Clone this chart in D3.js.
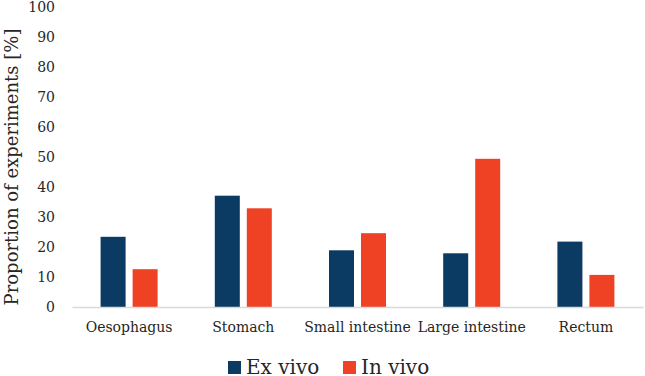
<!DOCTYPE html>
<html>
<head>
<meta charset="utf-8">
<script src="https://cdn.jsdelivr.net/npm/d3@7"></script>
<style>
  .chart, .chart text { font-family: "DejaVu Serif", serif !important; }
</style>
</head>
<body style="margin:0;background:#fff">
<div class="container"></div>
<script>
// data
var categories = ["Oesophagus", "Stomach", "Small intestine", "Large intestine", "Rectum"];
var series = ["Ex vivo", "In vivo"];
var exVivo = [23.4, 37.1, 18.9, 17.9, 21.8];
var inVivo = [12.6, 32.9, 24.6, 49.4, 10.7];
var yTicks = [0, 10, 20, 30, 40, 50, 60, 70, 80, 90, 100];
var colors = ["#0b3a63", "#ef4123"];

function drawChart() {
    var margin = { top: 7, right: 2, bottom: 69, left: 72 }
        , width = 645 - margin.left - margin.right
        , height = 376 - margin.top - margin.bottom;

    var rows = categories.map(function (c, i) {
        return { category: c, values: [exVivo[i], inVivo[i]] };
    });

    var x = d3.scaleBand()
        .domain(categories)
        .range([0, width]);

    // two bars of 25px with a 7px gap, centred in each band
    var x1 = d3.scaleBand()
        .domain(series)
        .range([-28.5, 28.5])
        .paddingInner(0.21875);

    var y = d3.scaleLinear()
        .domain([0, 100])
        .range([height, 0]);

    var svg = d3.select(".container").append("svg")
        .attr("class", "chart")
        .attr("width", width + margin.left + margin.right)
        .attr("height", height + margin.top + margin.bottom)
        .append("g")
        .attr("transform", "translate(" + margin.left + "," + margin.top + ")");

    // bars
    var groups = svg.append("g")
        .selectAll("g")
        .data(rows)
        .enter()
        .append("g")
        .attr("transform", function (d) { return "translate(" + (x(d.category) + x.bandwidth() / 2) + ",0)"; });

    groups.selectAll("rect")
        .data(function (d) { return d.values.map(function (v, i) { return { key: series[i], value: v, idx: i }; }); })
        .enter()
        .append("rect")
        .attr("x", function (d) { return x1(d.key); })
        .attr("width", x1.bandwidth())
        .attr("y", function (d) { return y(d.value); })
        .attr("height", function (d) { return height - y(d.value); })
        .attr("fill", function (d) { return colors[d.idx]; });

    // x axis
    var xAxis = svg.append("g")
        .attr("class", "x-axis")
        .attr("transform", "translate(0," + height + ")")
        .call(d3.axisBottom(x).tickSize(0).tickPadding(15))
        .attr("font-size", 14);
    xAxis.select(".domain").attr("stroke", "#d9d9d9").attr("stroke-width", 1.5);
    xAxis.selectAll("text").attr("fill", "#262626");

    // y axis, labels only
    var yAxis = svg.append("g")
        .attr("class", "y-axis")
        .call(d3.axisLeft(y).tickValues(yTicks).tickSize(0).tickPadding(17))
        .attr("font-size", 14);
    yAxis.select(".domain").remove();
    yAxis.selectAll("text").attr("fill", "#262626");

    // y title
    svg.append("text")
        .attr("transform", "translate(" + (18 - margin.left) + "," + 160 + ") rotate(-90)")
        .attr("text-anchor", "middle")
        .attr("font-size", 18)
        .attr("fill", "#262626")
        .text("Proportion of experiments [%]");

    // legend
    var legendX = [228 - margin.left, 343 - margin.left];
    var legend = svg.append("g")
        .selectAll("g")
        .data(series)
        .enter()
        .append("g")
        .attr("transform", function (d, i) { return "translate(" + legendX[i] + "," + (361 - margin.top) + ")"; });

    legend.append("rect")
        .attr("width", 13)
        .attr("height", 13)
        .attr("fill", function (d, i) { return colors[i]; });

    legend.append("text")
        .attr("x", 18)
        .attr("y", 12.5)
        .attr("font-size", 20)
        .attr("fill", "#262626")
        .text(function (d) { return d; });
}

drawChart();
</script>
</body>
</html>
